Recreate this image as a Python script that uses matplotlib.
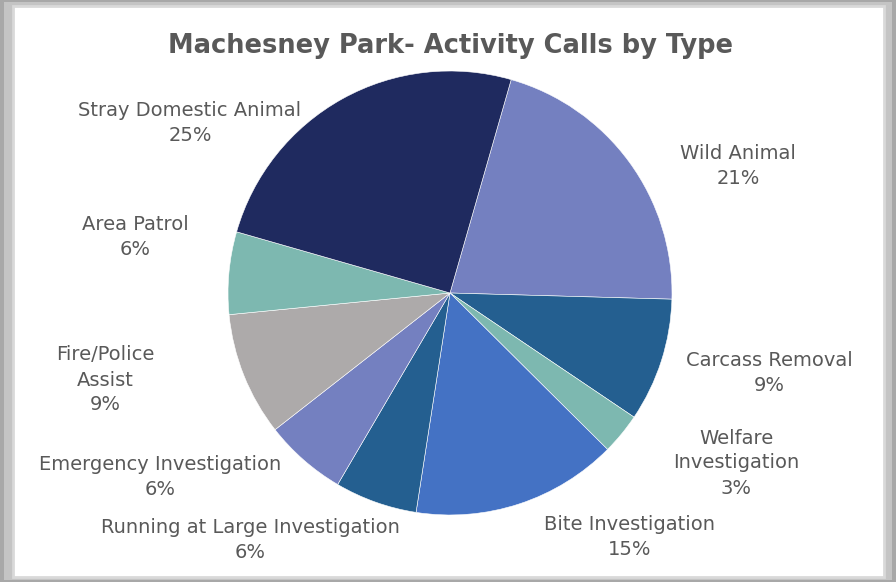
import matplotlib.pyplot as plt
from matplotlib.patches import Rectangle

plt.rcParams['font.family'] = ['DejaVu Sans']

# slices, clockwise from the top
categories = ['Wild Animal', 'Carcass Removal', 'Welfare\nInvestigation', 'Bite Investigation',
              'Running at Large Investigation', 'Emergency Investigation', 'Fire/Police\nAssist',
              'Area Patrol', 'Stray Domestic Animal']
shares = [21, 9, 3, 15, 6, 6, 9, 6, 25]
colors = ['#7480C0', '#245F90', '#7DB8B0', '#4472C4', '#245F90', '#7480C0', '#ADAAAA',
          '#7DB8B0', '#1F2A5F']
# label centres in pixels (x, y from top)
label_pos = [(738, 166), (769, 373), (736, 463), (630, 537), (250, 540), (160, 477),
             (105, 380), (135, 237), (190, 123)]

W, H = 896, 582
fig = plt.figure(figsize=(W / 100, H / 100), dpi=100)
fig.patch.set_facecolor('#a8a8a8')

ax = fig.add_axes([0, 0, 1, 1])

# chart frame
ax.add_patch(Rectangle((4, 2), W - 8, H - 4, facecolor='#c4c4c4', edgecolor='none', zorder=0))
ax.add_patch(Rectangle((13, 5), 871, 571, facecolor='white', edgecolor='#d9d9d9',
                       linewidth=2, zorder=1))

ax.pie(shares, colors=colors, startangle=74, counterclock=False,
       center=(450, H - 293), radius=222, frame=True,
       wedgeprops=dict(edgecolor='white', linewidth=0.4, zorder=2))
ax.set_xlim(0, W)
ax.set_ylim(0, H)
ax.set_aspect('equal')
ax.axis('off')

for name, val, (px, py) in zip(categories, shares, label_pos):
    ax.text(px, H - py, f'{name}\n{val}%', ha='center', va='center', fontsize=14,
            color='#595959', linespacing=1.4, zorder=3)

ax.text(450, H - 46, 'Machesney Park- Activity Calls by Type', ha='center', va='center',
        fontsize=18.5, fontweight='bold', color='#595959', zorder=3)

fig.savefig('out.png', dpi=100)
